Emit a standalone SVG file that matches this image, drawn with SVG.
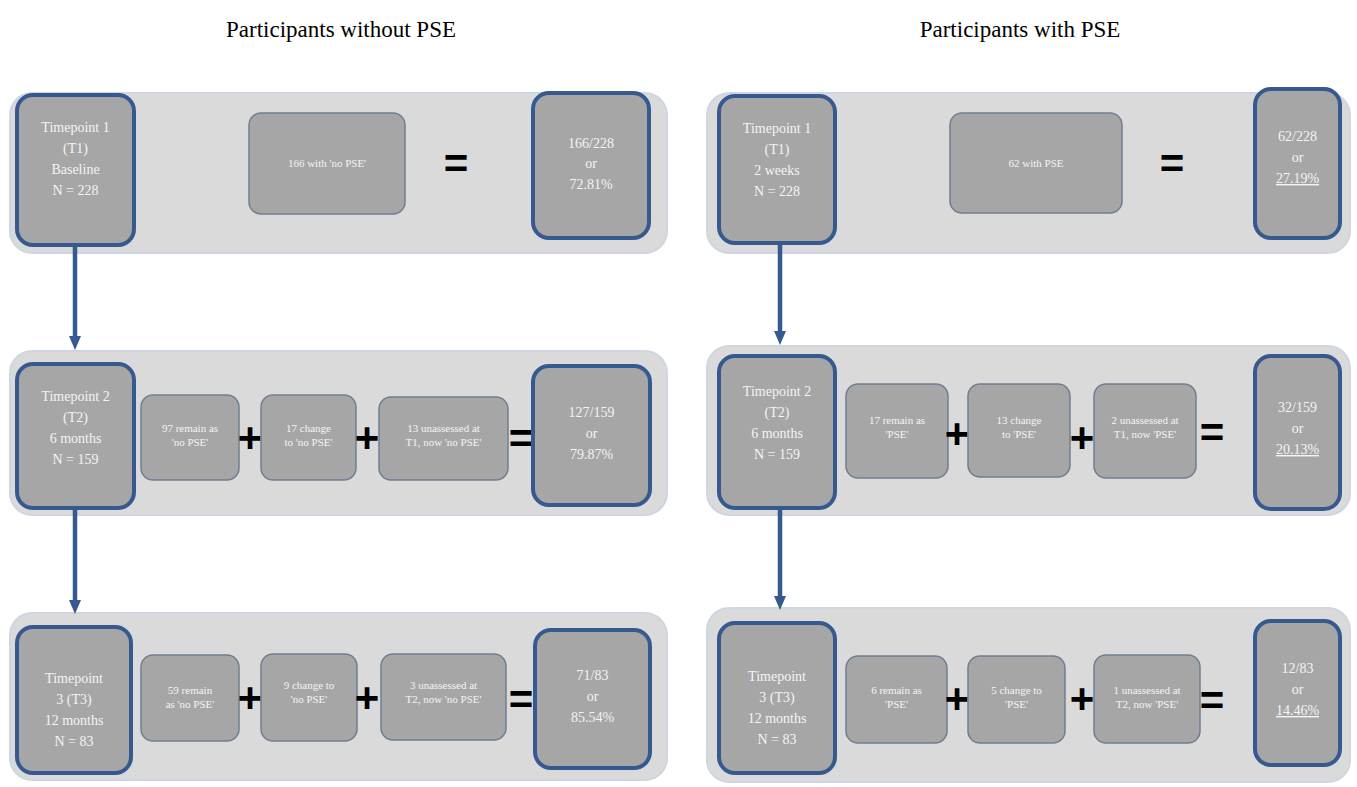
<svg xmlns="http://www.w3.org/2000/svg" width="1357" height="787" viewBox="0 0 1357 787">
<defs>
<style>
.bg{fill:#dadada;stroke:#cdd6e2;stroke-width:2}
.tp{fill:#a6a6a6;stroke:#36598f;stroke-width:4}
.res{fill:#a6a6a6;stroke:#36598f;stroke-width:4}
.bx{fill:#a6a6a6;stroke:#6f7d92;stroke-width:1.5}
.title{font-family:"Liberation Serif",serif;font-size:23px;fill:#000;text-anchor:middle}
.t{font-family:"Liberation Serif",serif;font-size:14px;fill:#f4f4f4;text-anchor:middle}
.s{font-family:"Liberation Serif",serif;font-size:11px;fill:#f4f4f4;text-anchor:middle}
.op{font-family:"Liberation Sans",sans-serif;font-weight:bold;font-size:42px;fill:#000;text-anchor:middle}
.arr{stroke:#36598f;stroke-width:4.5;fill:none}
</style>
<marker id="ah" markerWidth="14" markerHeight="12" refX="2" refY="6" orient="auto" markerUnits="userSpaceOnUse" viewBox="0 0 14 12">
<path d="M0,0 L14,6 L0,12 z" fill="#36598f"/>
</marker>
</defs>
<rect width="1357" height="787" fill="#ffffff"/>
<text class="title" x="341" y="37">Participants without PSE</text>
<text class="title" x="1020" y="37">Participants with PSE</text>

<g id="row-left-1"><rect class="bg" x="10" y="93" width="657" height="160" rx="22"/></g>
<g id="row-left-2"><rect class="bg" x="10" y="351" width="657" height="164" rx="22"/></g>
<g id="row-left-3"><rect class="bg" x="10" y="613" width="657" height="167" rx="22"/></g>
<g id="row-right-1"><rect class="bg" x="707" y="93" width="643" height="160" rx="22"/></g>
<g id="row-right-2"><rect class="bg" x="707" y="346" width="643" height="169" rx="22"/></g>
<g id="row-right-3"><rect class="bg" x="707" y="608" width="643" height="174" rx="22"/></g>

<g id="connectors">
<line class="arr" x1="75" y1="246" x2="75" y2="338" marker-end="url(#ah)"/>
<line class="arr" x1="75" y1="509" x2="75" y2="602" marker-end="url(#ah)"/>
<line class="arr" x1="780" y1="243" x2="780" y2="333" marker-end="url(#ah)"/>
<line class="arr" x1="780" y1="509" x2="780" y2="598" marker-end="url(#ah)"/>
</g>

<g id="L1-tp"><rect class="tp" x="17" y="95" width="117" height="150" rx="16"/>
<text class="t" x="75.5" y="132">Timepoint 1</text><text class="t" x="75.5" y="153">(T1)</text><text class="t" x="75.5" y="174">Baseline</text><text class="t" x="75.5" y="195">N = 228</text></g>
<g id="L1-b"><rect class="bx" x="249" y="113" width="156" height="101" rx="12"/><text class="s" x="327" y="167">166 with 'no PSE'</text></g>
<text class="op" x="456" y="178">=</text>
<g id="L1-r"><rect class="res" x="533" y="93" width="116" height="145" rx="16"/>
<text class="t" x="591" y="148">166/228</text><text class="t" x="591" y="168">or</text><text class="t" x="591" y="189">72.81%</text></g>

<g id="L2-tp"><rect class="tp" x="17" y="364" width="117" height="144" rx="16"/>
<text class="t" x="75.5" y="401">Timepoint 2</text><text class="t" x="75.5" y="422">(T2)</text><text class="t" x="75.5" y="443">6 months</text><text class="t" x="75.5" y="464">N = 159</text></g>
<g id="L2-b1"><rect class="bx" x="141" y="395" width="98" height="85" rx="12"/><text class="s" x="190" y="432">97 remain as</text><text class="s" x="190" y="446">'no PSE'</text></g>
<text class="op" x="250" y="452">+</text>
<g id="L2-b2"><rect class="bx" x="261" y="395" width="95" height="85" rx="12"/><text class="s" x="308.5" y="432">17 change</text><text class="s" x="308.5" y="446">to 'no PSE'</text></g>
<text class="op" x="367" y="452">+</text>
<g id="L2-b3"><rect class="bx" x="379" y="397" width="129" height="83" rx="12"/><text class="s" x="443.5" y="432">13 unassessed at</text><text class="s" x="443.5" y="446">T1, now 'no PSE'</text></g>
<text class="op" x="521" y="453">=</text>
<g id="L2-r"><rect class="res" x="533" y="366" width="117" height="139" rx="16"/>
<text class="t" x="591.5" y="417">127/159</text><text class="t" x="591.5" y="438">or</text><text class="t" x="591.5" y="459">79.87%</text></g>

<g id="L3-tp"><rect class="tp" x="17" y="627" width="114" height="146" rx="16"/>
<text class="t" x="74" y="683">Timepoint</text><text class="t" x="74" y="704">3 (T3)</text><text class="t" x="74" y="725">12 months</text><text class="t" x="74" y="746">N = 83</text></g>
<g id="L3-b1"><rect class="bx" x="141" y="655" width="98" height="86" rx="12"/><text class="s" x="190" y="694">59 remain</text><text class="s" x="190" y="708">as 'no PSE'</text></g>
<text class="op" x="250" y="712">+</text>
<g id="L3-b2"><rect class="bx" x="261" y="654" width="96" height="87" rx="12"/><text class="s" x="309" y="689">9 change to</text><text class="s" x="309" y="703">'no PSE'</text></g>
<text class="op" x="367" y="712">+</text>
<g id="L3-b3"><rect class="bx" x="381" y="654" width="125" height="86" rx="12"/><text class="s" x="443.5" y="689">3 unassessed at</text><text class="s" x="443.5" y="703">T2, now 'no PSE'</text></g>
<text class="op" x="521" y="714">=</text>
<g id="L3-r"><rect class="res" x="535" y="630" width="115" height="138" rx="16"/>
<text class="t" x="592.5" y="680">71/83</text><text class="t" x="592.5" y="701">or</text><text class="t" x="592.5" y="722">85.54%</text></g>

<g id="R1-tp"><rect class="tp" x="719" y="96" width="116" height="147" rx="16"/>
<text class="t" x="777" y="133">Timepoint 1</text><text class="t" x="777" y="154">(T1)</text><text class="t" x="777" y="175">2 weeks</text><text class="t" x="777" y="196">N = 228</text></g>
<g id="R1-b"><rect class="bx" x="950" y="113" width="172" height="100" rx="12"/><text class="s" x="1036" y="167">62 with PSE</text></g>
<text class="op" x="1172" y="178">=</text>
<g id="R1-r"><rect class="res" x="1255" y="89" width="85" height="149" rx="16"/>
<text class="t" x="1297.5" y="141">62/228</text><text class="t" x="1297.5" y="162">or</text><text class="t" x="1297.5" y="183" text-decoration="underline">27.19%</text></g>

<g id="R2-tp"><rect class="tp" x="719" y="356" width="116" height="152" rx="16"/>
<text class="t" x="777" y="396">Timepoint 2</text><text class="t" x="777" y="417">(T2)</text><text class="t" x="777" y="438">6 months</text><text class="t" x="777" y="459">N = 159</text></g>
<g id="R2-b1"><rect class="bx" x="846" y="384" width="102" height="94" rx="12"/><text class="s" x="897" y="424">17 remain as</text><text class="s" x="897" y="438">'PSE'</text></g>
<text class="op" x="957" y="448">+</text>
<g id="R2-b2"><rect class="bx" x="968" y="384" width="102" height="93" rx="12"/><text class="s" x="1019" y="424">13 change</text><text class="s" x="1019" y="438">to 'PSE'</text></g>
<text class="op" x="1082" y="452">+</text>
<g id="R2-b3"><rect class="bx" x="1094" y="384" width="102" height="94" rx="12"/><text class="s" x="1145" y="424">2 unassessed at</text><text class="s" x="1145" y="438">T1, now 'PSE'</text></g>
<text class="op" x="1212" y="447">=</text>
<g id="R2-r"><rect class="res" x="1255" y="356" width="85" height="153" rx="16"/>
<text class="t" x="1297.5" y="412">32/159</text><text class="t" x="1297.5" y="433">or</text><text class="t" x="1297.5" y="454" text-decoration="underline">20.13%</text></g>

<g id="R3-tp"><rect class="tp" x="719" y="623" width="116" height="150" rx="16"/>
<text class="t" x="777" y="681">Timepoint</text><text class="t" x="777" y="702">3 (T3)</text><text class="t" x="777" y="723">12 months</text><text class="t" x="777" y="744">N = 83</text></g>
<g id="R3-b1"><rect class="bx" x="846" y="656" width="101" height="87" rx="12"/><text class="s" x="896.5" y="694">6 remain as</text><text class="s" x="896.5" y="708">'PSE'</text></g>
<text class="op" x="957" y="713">+</text>
<g id="R3-b2"><rect class="bx" x="968" y="656" width="97" height="87" rx="12"/><text class="s" x="1016.5" y="694">5 change to</text><text class="s" x="1016.5" y="708">'PSE'</text></g>
<text class="op" x="1082" y="713">+</text>
<g id="R3-b3"><rect class="bx" x="1094" y="655" width="106" height="88" rx="12"/><text class="s" x="1147" y="694">1 unassessed at</text><text class="s" x="1147" y="708">T2, now 'PSE'</text></g>
<text class="op" x="1212" y="715">=</text>
<g id="R3-r"><rect class="res" x="1255" y="621" width="85" height="144" rx="16"/>
<text class="t" x="1297.5" y="673">12/83</text><text class="t" x="1297.5" y="694">or</text><text class="t" x="1297.5" y="715" text-decoration="underline">14.46%</text></g>
</svg>
